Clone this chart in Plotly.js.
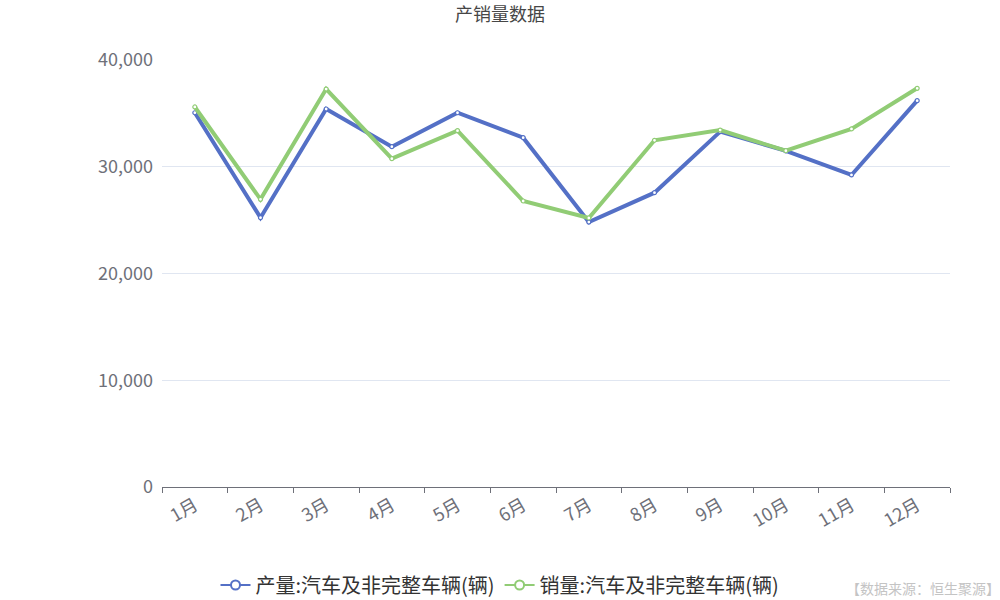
<!DOCTYPE html>
<html>
<head>
<meta charset="utf-8">
<script src="https://cdn.plot.ly/plotly-3.0.1.min.js"></script>
<style>html,body{margin:0;padding:0;background:#fff}#chart{width:1000px;height:600px}</style>
</head>
<body>
<div id="chart"></div>
<script>
const months = ['1月','2月','3月','4月','5月','6月','7月','8月','9月','10月','11月','12月'];
const productionName = '产量:汽车及非完整车辆(辆)';
const salesName = '销量:汽车及非完整车辆(辆)';
const production = [35060, 25230, 35410, 31880, 35060, 32720, 24820, 27570, 33290, 31480, 29230, 36190];
const sales = [35600, 26950, 37280, 30760, 33380, 26790, 25200, 32480, 33440, 31500, 33540, 37350];
const yTicks = [0, 10000, 20000, 30000, 40000];

const font = "'Noto Sans CJK SC', 'Noto Sans', sans-serif";
function series(name, y, color) {
  return {
    type: 'scatter', mode: 'lines+markers', name: name, x: months, y: y,
    legendgroup: name, showlegend: false,
    line: {color: color, width: 4},
    marker: {size: 4, color: '#fff', line: {color: color, width: 1.2}},
    hoverinfo: 'x+y'
  };
}
function legendEntry(name, color) {
  return {
    type: 'scatter', mode: 'lines+markers', name: name, x: [null], y: [null],
    legendgroup: name, showlegend: true, hoverinfo: 'skip',
    line: {color: color, width: 2},
    marker: {size: 9, color: '#fff', line: {color: color, width: 2}}
  };
}
const data = [
  series(productionName, production, '#5470c6'),
  series(salesName, sales, '#91cc75'),
  legendEntry(productionName, '#5470c6'),
  legendEntry(salesName, '#91cc75')
];
const layout = {
  width: 1000, height: 600,
  margin: {l: 162, r: 50, t: 60, b: 113, autoexpand: false},
  paper_bgcolor: '#fff', plot_bgcolor: '#fff',
  font: {family: font, color: '#6e7079'},
  title: {text: '产销量数据', x: 0.5, xref: 'container', y: 0.975, yref: 'container', yanchor: 'middle',
          font: {size: 18, color: '#464646', family: font}},
  xaxis: {
    type: 'category', tickson: 'boundaries', ticks: 'outside', ticklen: 5, tickcolor: '#6e7079',
    showline: true, linecolor: '#6e7079', linewidth: 1, showgrid: false, zeroline: false, automargin: false,
    tickangle: -30, tickfont: {size: 18, color: '#6e7079'}, range: [-0.5, 11.5]
  },
  yaxis: {
    range: [0, 40000], tickvals: yTicks, tickformat: ',', showgrid: true, gridcolor: '#e0e6f1',
    zeroline: false, showline: false, ticks: '', tickfont: {size: 18, color: '#6e7079'},
    ticklabelstandoff: 8, automargin: false
  },
  showlegend: true,
  legend: {orientation: 'h', x: 0.5, xanchor: 'center', xref: 'container', y: 0.025, yref: 'container',
           yanchor: 'middle', font: {size: 20, color: '#333'}, itemwidth: 30, groupclick: 'togglegroup'},
  annotations: [{
    text: '【数据来源：恒生聚源】', xref: 'paper', yref: 'paper', x: 1.066, xanchor: 'right',
    y: -0.2365, yanchor: 'middle', showarrow: false, font: {size: 14, color: '#c4c4c4'}
  }]
};
Plotly.newPlot('chart', data, layout, {displayModeBar: false});
</script>
</body>
</html>
